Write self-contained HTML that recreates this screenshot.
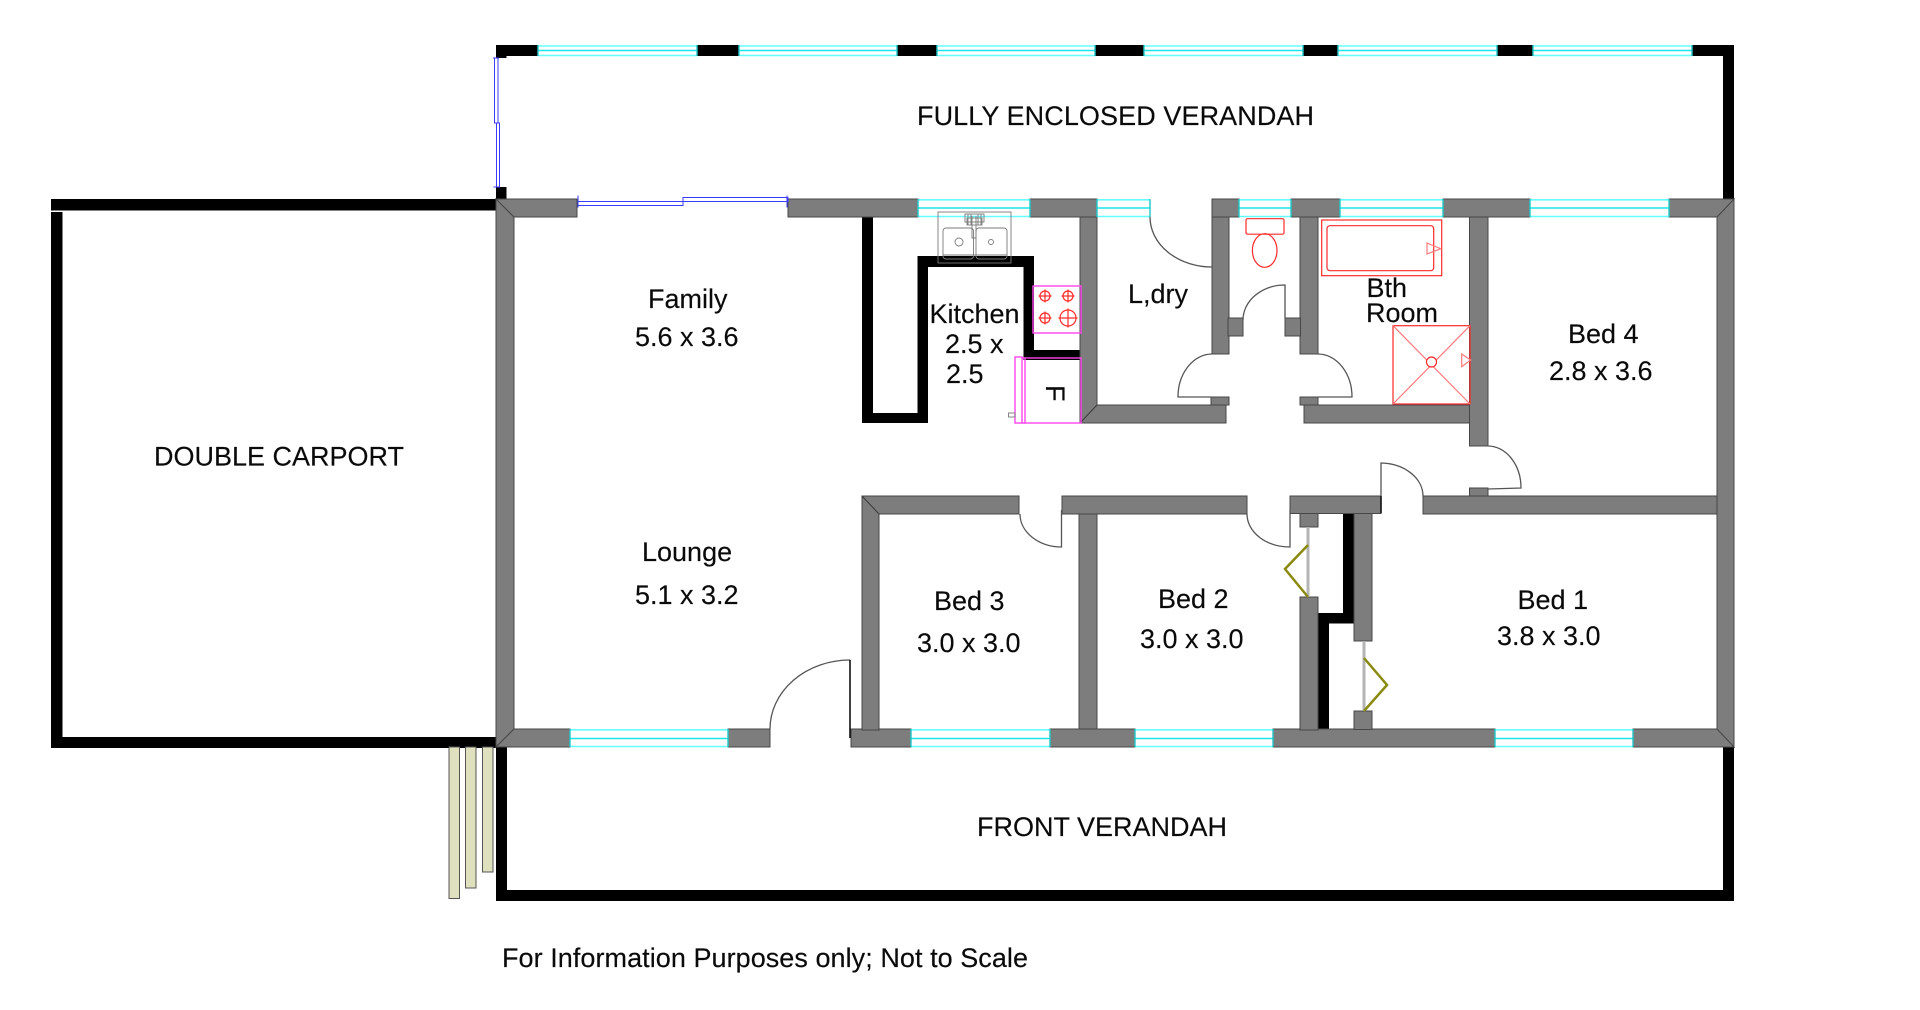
<!DOCTYPE html>
<html lang="en">
<head>
<meta charset="utf-8">
<title>Floor plan</title>
<style>
html,body{margin:0;padding:0;background:#fff;width:1920px;height:1010px;overflow:hidden}
svg{display:block}
text{font-family:"Liberation Sans",Arial,sans-serif;font-size:27px;fill:#0a0a0a;stroke:#0a0a0a;stroke-width:.15}
.b{fill:#000}
.g{fill:#7d7d7d;stroke:#474747;stroke-width:1}
.m{stroke:#3a3a3a;stroke-width:1;fill:none}
.d{fill:none;stroke:#555;stroke-width:1.3}
.dk{fill:none;stroke:#111;stroke-width:1.6}
.w{fill:#fff;stroke:none}
.c{stroke:#19e6e6;stroke-width:1.4;fill:none}
.ce{stroke:#66ffff;stroke-width:1.6;fill:none}
.ct{stroke:#1fc8c8;stroke-width:1.4;fill:none}
.bl{fill:none;stroke:#3b3bff;stroke-width:1}
.r{fill:none;stroke:#ff2a2a;stroke-width:1.2}
.rl{fill:none;stroke:#ff7a7a;stroke-width:1.2}
.mg{fill:none;stroke:#ff44ee;stroke-width:1.4}
.s{fill:none;stroke:#7a7a7a;stroke-width:.9}
.ol{fill:none;stroke:#8a8a10;stroke-width:2.5}
.rod{stroke:#b4b4b4;stroke-width:3}
.st{fill:#dfe0bd;stroke:#555;stroke-width:1}
</style>
</head>
<body>
<svg width="1920" height="1010" viewBox="0 0 1920 1010" xmlns="http://www.w3.org/2000/svg">

<!-- Carport -->
<rect class="b" x="51" y="199" width="445" height="11.5"/>
<rect class="b" x="51" y="212" width="11.5" height="536"/>
<rect class="b" x="51" y="737" width="445" height="11"/>

<!-- Upper verandah black -->
<rect class="b" x="496" y="45" width="1238" height="11"/>
<rect class="b" x="496" y="45" width="10.5" height="13"/>
<rect class="b" x="1723" y="45" width="11" height="154"/>
<rect class="b" x="496" y="187" width="10.5" height="13"/>

<!-- Front verandah black -->
<rect class="b" x="496" y="747" width="11" height="154"/>
<rect class="b" x="496" y="890" width="1238" height="11"/>
<rect class="b" x="1723" y="747" width="11" height="154"/>

<!-- Top verandah windows -->
<g>
<rect class="w" x="538" y="45" width="159" height="11"/><path class="ce" d="M538 46H697M538 55.5H697"/><path class="c" d="M538 50.5H697"/><path class="ct" d="M538 45V56M697 45V56"/>
<rect class="w" x="739" y="45" width="158" height="11"/><path class="ce" d="M739 46H897M739 55.5H897"/><path class="c" d="M739 50.5H897"/><path class="ct" d="M739 45V56M897 45V56"/>
<rect class="w" x="937" y="45" width="158" height="11"/><path class="ce" d="M937 46H1095M937 55.5H1095"/><path class="c" d="M937 50.5H1095"/><path class="ct" d="M937 45V56M1095 45V56"/>
<rect class="w" x="1144" y="45" width="159" height="11"/><path class="ce" d="M1144 46H1303M1144 55.5H1303"/><path class="c" d="M1144 50.5H1303"/><path class="ct" d="M1144 45V56M1303 45V56"/>
<rect class="w" x="1338" y="45" width="159" height="11"/><path class="ce" d="M1338 46H1497M1338 55.5H1497"/><path class="c" d="M1338 50.5H1497"/><path class="ct" d="M1338 45V56M1497 45V56"/>
<rect class="w" x="1533" y="45" width="159" height="11"/><path class="ce" d="M1533 46H1692M1533 55.5H1692"/><path class="c" d="M1533 50.5H1692"/><path class="ct" d="M1533 45V56M1692 45V56"/>
</g>

<!-- Steps -->
<rect class="st" x="449" y="747" width="10.5" height="151.5"/>
<rect class="st" x="465.5" y="747" width="10.5" height="141"/>
<rect class="st" x="482.5" y="747" width="10.5" height="125"/>

<!-- Black kitchen partitions -->
<rect class="b" x="862" y="217" width="11" height="206"/>
<rect class="b" x="862" y="413" width="66" height="10"/>
<rect class="b" x="917.5" y="256" width="10.5" height="167"/>
<rect class="b" x="917.5" y="256" width="116.5" height="11"/>
<rect class="b" x="1023.5" y="256" width="10.5" height="104"/>
<rect class="b" x="1023.5" y="350" width="57" height="10"/>

<!-- Black closet partitions -->
<rect class="b" x="1318" y="613" width="11" height="117"/>
<rect class="b" x="1318" y="613" width="36" height="10.5"/>
<rect class="b" x="1343" y="513" width="11" height="110"/>

<!-- Grey walls: outer left / right -->
<polygon class="g" points="496,199 514,217 514,729 496,747"/>
<polygon class="g" points="1734,199 1717,217 1717,729 1734,747"/>
<!-- Top wall -->
<polygon class="g" points="496,199 577,199 577,217 514,217"/>
<rect class="g" x="788" y="199" width="130" height="18"/>
<rect class="g" x="1030" y="199" width="67" height="18"/>
<rect class="g" x="1212" y="199" width="27" height="18"/>
<rect class="g" x="1291" y="199" width="49" height="18"/>
<rect class="g" x="1443" y="199" width="87" height="18"/>
<polygon class="g" points="1669,199 1734,199 1717,217 1669,217"/>
<!-- Bottom wall -->
<polygon class="g" points="496,747 514,729 570,729 570,747"/>
<rect class="g" x="728" y="729" width="42" height="18"/>
<rect class="g" x="851" y="729" width="60" height="18"/>
<rect class="g" x="1050" y="729" width="85" height="18"/>
<rect class="g" x="1273" y="729" width="222" height="18"/>
<polygon class="g" points="1633,729 1717,729 1734,747 1633,747"/>

<!-- Interior walls -->
<polygon class="g" points="1080,217 1097,217 1097,405 1226,405 1226,423 1080,423"/>
<path class="m" d="M1080 423L1097 405"/>
<rect class="g" x="1212" y="217" width="17" height="137"/>
<rect class="g" x="1300" y="217" width="18" height="137"/>
<rect class="g" x="1228" y="318" width="15" height="18"/>
<rect class="g" x="1285" y="318" width="15.5" height="18"/>
<rect class="g" x="1211" y="397" width="18" height="8"/>
<rect class="g" x="1300" y="397" width="18" height="8"/>
<rect class="g" x="1304" y="405" width="166" height="18"/>
<rect class="g" x="1469.5" y="217" width="18.5" height="229"/>
<rect class="g" x="1469.5" y="488" width="18.5" height="8"/>
<rect class="g" x="1423" y="496" width="294" height="18"/>
<rect class="g" x="1290" y="496" width="91" height="17.5"/>
<rect class="g" x="1062" y="496" width="185" height="18"/>
<polygon class="g" points="862,496 1019,496 1019,514 879,514 879,730 862,730"/>
<path class="m" d="M862 496L879 514"/>
<rect class="g" x="1079" y="514" width="18" height="215"/>
<rect class="g" x="1300" y="513.5" width="18" height="13.5"/>
<rect class="g" x="1300" y="597" width="18" height="133"/>
<rect class="g" x="1354" y="513.5" width="18" height="127.5"/>
<rect class="g" x="1354" y="711" width="18" height="18.5"/>

<!-- Wall windows -->
<g>
<rect class="w" x="918" y="199" width="112" height="18"/><path class="ce" d="M918 199.8H1030M918 216.5H1030"/><path class="c" d="M918 208H1030"/><path class="ct" d="M918 199V217M1030 199V217"/>
<rect class="w" x="1097" y="199" width="53" height="18"/><path class="ce" d="M1097 199.8H1150M1097 216.5H1150"/><path class="c" d="M1097 208H1150"/><path class="ct" d="M1097 199V217M1150 199V217"/>
<rect class="w" x="1239" y="199" width="52" height="18"/><path class="ce" d="M1239 199.8H1291M1239 216.5H1291"/><path class="c" d="M1239 208H1291"/><path class="ct" d="M1239 199V217M1291 199V217"/>
<rect class="w" x="1340" y="199" width="103" height="18"/><path class="ce" d="M1340 199.8H1443M1340 216.5H1443"/><path class="c" d="M1340 208H1443"/><path class="ct" d="M1340 199V217M1443 199V217"/>
<rect class="w" x="1530" y="199" width="139" height="18"/><path class="ce" d="M1530 199.8H1669M1530 216.5H1669"/><path class="c" d="M1530 208H1669"/><path class="ct" d="M1530 199V217M1669 199V217"/>
<rect class="w" x="570" y="729" width="158" height="18"/><path class="ce" d="M570 729.8H728M570 746.5H728"/><path class="c" d="M570 738.5H728"/><path class="ct" d="M570 729V747M728 729V747"/>
<rect class="w" x="911" y="729" width="139" height="18"/><path class="ce" d="M911 729.8H1050M911 746.5H1050"/><path class="c" d="M911 738.5H1050"/><path class="ct" d="M911 729V747M1050 729V747"/>
<rect class="w" x="1135" y="729" width="138" height="18"/><path class="ce" d="M1135 729.8H1273M1135 746.5H1273"/><path class="c" d="M1135 738.5H1273"/><path class="ct" d="M1135 729V747M1273 729V747"/>
<rect class="w" x="1495" y="729" width="138" height="18"/><path class="ce" d="M1495 729.8H1633M1495 746.5H1633"/><path class="c" d="M1495 738.5H1633"/><path class="ct" d="M1495 729V747M1633 729V747"/>
</g>

<!-- Blue sliding doors -->
<path class="bl" d="M494.5 58V123H498V58ZM496.5 123V187H499.5V123Z"/>
<path class="bl" d="M493 58H499M493.5 187H500" stroke-width="2"/>
<path class="bl" d="M578 201.5H683V205.5H578ZM683 197.5H788V201.5H683Z"/>
<path class="bl" d="M578 195.5V207.5M787 195.5V207.5" stroke-width="2"/>

<!-- Door swings -->
<path class="d" d="M1150 217A62 50 0 0 0 1212 267"/>
<path class="d" d="M1285 318V285A42 35 0 0 0 1243 320"/>
<path class="d" d="M1212 354A34 43 0 0 0 1178 397H1211"/>
<path class="d" d="M1318 354A34 43 0 0 1 1352 397H1318"/>
<path class="d" d="M1488 446A33 42 0 0 1 1521 488L1488 489"/>
<path class="d" d="M1423 496A43 33 0 0 0 1381 463V496"/>
<path class="dk" d="M1381 496V513" stroke-width="1"/>
<path class="d" d="M1020 514A42 33 0 0 0 1061.5 547V510"/>
<path class="d" d="M1247 514A43 33 0 0 0 1290 547V510"/>
<path class="d" d="M770 729A80 69 0 0 1 850 660"/>
<path class="dk" d="M850 660V738"/>

<!-- Bifold closet doors -->
<path class="rod" d="M1308 527V597M1364 641V711"/>
<path class="ol" d="M1308 545L1285 569L1308 597M1364 658L1387 685L1364 711"/>

<!-- Toilet -->
<rect class="r" x="1246" y="218.7" width="38" height="15.5" rx="1.5"/>
<ellipse class="r" cx="1264.7" cy="250.5" rx="12.3" ry="16.8"/>

<!-- Bath -->
<rect class="r" x="1321.7" y="220" width="120" height="55.7"/>
<rect class="r" x="1327" y="225.7" width="106.7" height="45" rx="3"/>
<polygon class="rl" points="1427,243 1440.7,248.7 1427,254"/>

<!-- Shower -->
<rect class="r" x="1393" y="325.7" width="77" height="78.3"/>
<path class="rl" d="M1393 325.7L1470 404M1470 325.7L1393 404"/>
<circle cx="1431.5" cy="362" r="5" fill="#fff" stroke="#ff2a2a" stroke-width="1.2"/>
<polygon class="rl" points="1461.7,354 1470.7,360 1461.7,366.7"/>

<!-- Sink -->
<g class="s">
<rect x="938" y="212" width="73" height="51"/>
<rect x="943" y="228" width="30.5" height="31" rx="3"/>
<rect x="976" y="228" width="31" height="31" rx="3"/>
<circle cx="959" cy="242" r="4"/>
<circle cx="991" cy="242" r="2.5"/>
<rect x="965" y="214" width="19" height="8"/>
<rect x="967" y="218" width="15" height="7"/>
<path d="M968 214V225M971 214V225M978 214V225M981 214V225"/>
<path d="M972 216V238H976V216"/>
<path d="M943 255H1007"/>
</g>

<!-- Stove -->
<rect class="mg" x="1033" y="286" width="48" height="47"/>
<g class="r">
<circle cx="1045" cy="296" r="5"/><path d="M1038.5 296H1051.5M1045 289.5V302.5"/>
<circle cx="1068" cy="296" r="5"/><path d="M1061.5 296H1074.5M1068 289.5V302.5"/>
<circle cx="1045" cy="318" r="5"/><path d="M1038.5 318H1051.5M1045 311.5V324.5"/>
<circle cx="1068" cy="318" r="8"/><path d="M1058.5 318H1077.5M1068 308.5V327.5"/>
</g>

<!-- Fridge -->
<rect class="mg" x="1025" y="358" width="56" height="65"/>
<rect class="mg" x="1015" y="357" width="7" height="66"/>
<path class="mg" d="M1022 358H1025M1022 423H1025"/>
<rect class="s" x="1008.5" y="413" width="6.5" height="4"/>
<text transform="translate(1046 385) rotate(90)">F</text>

<!-- Labels -->
<text x="917" y="125" textLength="397">FULLY ENCLOSED VERANDAH</text>
<text x="648" y="308">Family</text>
<text x="635" y="346">5.6 x 3.6</text>
<text x="929.5" y="323">Kitchen</text>
<text x="945" y="353">2.5 x</text>
<text x="946" y="383">2.5</text>
<text x="1128" y="303">L,dry</text>
<text x="1366.5" y="297">Bth</text>
<text x="1366" y="322">Room</text>
<text x="1568" y="343">Bed 4</text>
<text x="1549" y="380">2.8 x 3.6</text>
<text x="642" y="561">Lounge</text>
<text x="635" y="604">5.1 x 3.2</text>
<text x="934" y="610">Bed 3</text>
<text x="917" y="652">3.0 x 3.0</text>
<text x="1158" y="608">Bed 2</text>
<text x="1140" y="648">3.0 x 3.0</text>
<text x="1517.5" y="609">Bed 1</text>
<text x="1497" y="645">3.8 x 3.0</text>
<text x="154" y="465.5" textLength="250">DOUBLE CARPORT</text>
<text x="977" y="836" textLength="250">FRONT VERANDAH</text>
<text x="502" y="967" textLength="526">For Information Purposes only; Not to Scale</text>
</svg>
</body>
</html>
